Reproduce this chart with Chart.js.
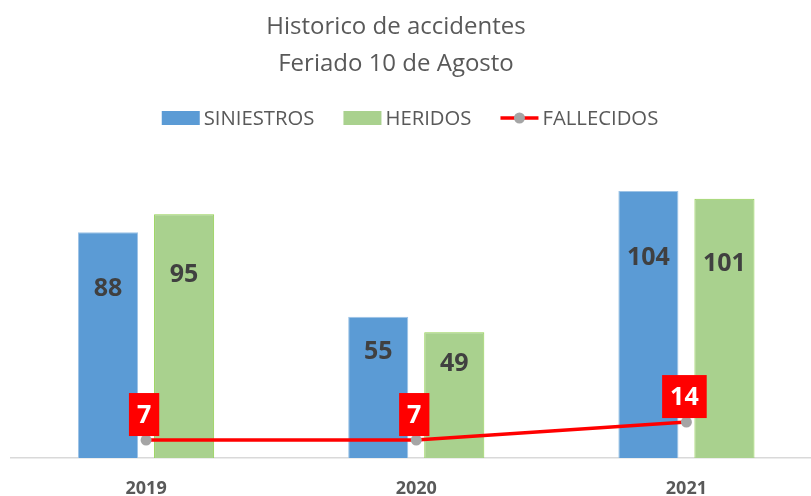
<!DOCTYPE html>
<html>
<head>
<meta charset="utf-8">
<script src="https://cdn.jsdelivr.net/npm/chart.js@4.4.2/dist/chart.umd.min.js"></script>
<style>
  html, body { margin: 0; padding: 0; background: #fff; overflow: hidden; }
  #wrap { position: relative; width: 827px; height: 496px; }
</style>
</head>
<body>
<div id="wrap"><canvas id="chart"></canvas></div>
<script>
const categories = ['2019', '2020', '2021'];
const siniestros = [88, 55, 104];
const heridos = [95, 49, 101];
const fallecidos = [7, 7, 14];
const titleLines = ['Historico de accidentes', 'Feriado 10 de Agosto'];

const FONT = '"Open Sans", "Liberation Sans", sans-serif';
const GREY_TEXT = '#595959';

// title + legend are painted by hand so they sit like the Excel original
const headerPlugin = {
  id: 'header',
  afterDraw(chart) {
    const ctx = chart.ctx;
    ctx.save();
    ctx.fillStyle = GREY_TEXT;
    ctx.font = '24px ' + FONT;
    ctx.textAlign = 'center';
    ctx.textBaseline = 'middle';
    titleLines.forEach((line, i) => ctx.fillText(line, 396, 27 + i * 37));

    ctx.font = '20.3px ' + FONT;
    ctx.textAlign = 'left';
    const items = chart.data.datasets.map(ds => ({ ds, w: ctx.measureText(ds.label).width }));
    const sym = 38, gap = 4, spacing = 29;
    let total = items.reduce((s, it) => s + sym + gap + it.w, 0) + spacing * (items.length - 1);
    let x = 410 - total / 2;
    const y = 118;
    items.forEach(({ ds, w }) => {
      if (ds.type === 'line') {
        ctx.strokeStyle = ds.borderColor;
        ctx.lineWidth = 3.5;
        ctx.beginPath();
        ctx.moveTo(x, y);
        ctx.lineTo(x + sym, y);
        ctx.stroke();
        ctx.fillStyle = ds.pointBackgroundColor;
        ctx.beginPath();
        ctx.arc(x + sym / 2, y, 5.5, 0, Math.PI * 2);
        ctx.fill();
      } else {
        ctx.fillStyle = ds.backgroundColor;
        ctx.fillRect(x, y - 7, sym, 14);
      }
      ctx.fillStyle = GREY_TEXT;
      ctx.fillText(ds.label, x + sym + gap, y + 1);
      x += sym + gap + w + spacing;
    });
    ctx.restore();
  }
};

const valueLabels = {
  id: 'valueLabels',
  afterDatasetsDraw(chart) {
    const ctx = chart.ctx;
    const yScale = chart.scales.y;
    ctx.save();
    ctx.textAlign = 'center';
    ctx.textBaseline = 'middle';
    chart.data.datasets.forEach((ds, di) => {
      const meta = chart.getDatasetMeta(di);
      meta.data.forEach((el, i) => {
        const v = ds.data[i];
        ctx.font = 'bold 25px ' + FONT;
        if (ds.type === 'line') {
          const tw = ctx.measureText(String(v)).width;
          const bw = tw + 16, bh = 43;
          const bx = el.x - 2 - bw / 2, by = el.y - 4 - bh;
          ctx.fillStyle = '#ff0000';
          ctx.fillRect(bx, by, bw, bh);
          ctx.fillStyle = '#ffffff';
          ctx.fillText(String(v), bx + bw / 2, by + bh / 2 + 1);
        } else {
          ctx.fillStyle = '#404040';
          ctx.fillText(String(v), el.x, yScale.getPixelForValue(v * 0.75));
        }
      });
    });
    ctx.restore();
  }
};

new Chart(document.getElementById('chart'), {
  type: 'bar',
  data: {
    labels: categories,
    datasets: [
      {
        label: 'SINIESTROS',
        data: siniestros,
        backgroundColor: '#5b9bd5',
        borderColor: '#9dc3e6',
        borderWidth: 1,
        barPercentage: 0.79,
        categoryPercentage: 0.563,
        order: 1
      },
      {
        label: 'HERIDOS',
        data: heridos,
        backgroundColor: '#a9d18e',
        borderColor: '#92d050',
        borderWidth: 1,
        barPercentage: 0.79,
        categoryPercentage: 0.563,
        order: 1
      },
      {
        type: 'line',
        label: 'FALLECIDOS',
        data: fallecidos,
        borderColor: '#ff0000',
        borderWidth: 3.5,
        pointBackgroundColor: '#a5a5a5',
        pointBorderWidth: 0,
        pointRadius: 5.5,
        tension: 0,
        order: 0
      }
    ]
  },
  options: {
    responsive: true,
    maintainAspectRatio: false,
    animation: false,
    layout: { padding: { top: 150, left: 11, right: 0, bottom: 0 } },
    plugins: {
      legend: { display: false },
      title: { display: false },
      tooltip: { enabled: false }
    },
    scales: {
      x: {
        grid: { display: false, drawTicks: false },
        border: { display: true, color: '#d9d9d9', width: 1.5 },
        ticks: {
          color: GREY_TEXT,
          font: { family: FONT, size: 18, weight: 'bold' },
          padding: 20
        },
        afterFit(scale) { scale.height = 38; }
      },
      y: {
        display: false,
        min: 0,
        max: 120
      }
    }
  },
  plugins: [headerPlugin, valueLabels]
});
</script>
</body>
</html>
